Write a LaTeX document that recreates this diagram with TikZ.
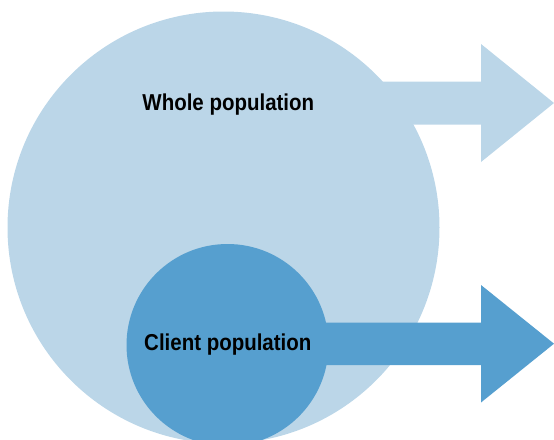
\documentclass[tikz,border=0pt]{standalone}
\usepackage{fontspec}
\setmainfont{Liberation Sans}
\usepackage{graphicx}
\definecolor{lightpop}{HTML}{BBD6E8}
\definecolor{clientpop}{HTML}{569FCF}
\begin{document}
\begin{tikzpicture}[x=1pt,y=-1pt,
  popcircle/.style={circle, inner sep=0pt, outer sep=0pt},
  poplabel/.style={font=\fontsize{23}{27}\selectfont\bfseries, text=black, inner sep=0pt, anchor=base}]
\useasboundingbox (0,0) rectangle (554,439);
\clip (0,0) rectangle (554,439);
% whole population circle and its arrow
\node[popcircle, fill=lightpop, minimum size=432pt] (whole) at (223.5,227.5) {};
\coordinate (wtip) at (554,103);
\fill[lightpop] (300,81.5) -- (481,81.5) -- (481,44) -- (wtip) -- (481,162) -- (481,124.5) -- (300,124.5) -- cycle;
% client population circle and its arrow
\node[popcircle, fill=clientpop, minimum size=202pt] (client) at (227.5,345) {};
\coordinate (ctip) at (554,343.7);
\fill[clientpop] (client.center |- 0,322.5) -- (481,322.5) -- (481,285) -- (ctip) -- (481,402.5) -- (481,365) -- (client.center |- 0,365) -- cycle;
% labels
\node[poplabel] (wlabel) at (228.3,110) {\scalebox{0.89}[1]{Whole population}};
\node[poplabel] (clabel) at (227.8,350.7) {\scalebox{0.89}[1]{Client population}};
\end{tikzpicture}
\end{document}
